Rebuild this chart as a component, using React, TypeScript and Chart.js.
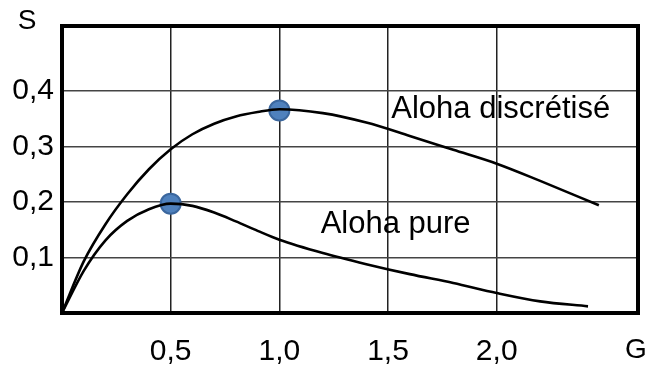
import React, { useEffect, useRef } from "react";
import { Chart, registerables } from "chart.js";

Chart.register(...registerables);

// Offered load G and throughput S
const slottedG = [0, 0.1, 0.2, 0.3, 0.4, 0.5, 0.6, 0.7, 0.8, 0.9, 1.0, 1.2, 1.4, 1.6, 1.8, 2.0, 2.2, 2.47];
const slottedS = [0, 0.093, 0.16, 0.214, 0.259, 0.295, 0.322, 0.341, 0.354, 0.362, 0.367, 0.36, 0.343, 0.319, 0.294, 0.269, 0.238, 0.194];

const pureG = [0, 0.1, 0.2, 0.3, 0.4, 0.5, 0.6, 0.7, 0.8, 0.9, 1.0, 1.2, 1.4, 1.6, 1.8, 2.0, 2.2, 2.42];
const pureS = [0, 0.076, 0.131, 0.166, 0.187, 0.197, 0.193, 0.181, 0.165, 0.148, 0.132, 0.108, 0.088, 0.07, 0.054, 0.036, 0.021, 0.012];

const peakG = [0.5, 1.0];
const peakS = [0.197, 0.365];

const xTicks = [0.5, 1.0, 1.5, 2.0];
const yTicks = [0.1, 0.2, 0.3, 0.4];

const curveLabels = ["Aloha discrétisé", "Aloha pure"];
const curveLabelG = [1.515, 1.19];
const curveLabelS = [0.352, 0.144];

const yTitle = "S";
const xTitle = "G";

const FONT = "'Liberation Sans', Arial, sans-serif";

const fmt = (v: number) => v.toFixed(1).replace(".", ",");

export default function App() {
  const ref = useRef<HTMLCanvasElement | null>(null);

  useEffect(() => {
    document.body.style.margin = "0";
    const canvas = ref.current;
    if (!canvas) return;

    const overlay = {
      id: "overlay",
      afterDraw(chart: any) {
        const { ctx, chartArea, scales } = chart;
        const xs = scales.x;
        const ys = scales.y;
        ctx.save();
        // frame
        ctx.strokeStyle = "#000";
        ctx.lineWidth = 4;
        ctx.strokeRect(chartArea.left, chartArea.top, chartArea.right - chartArea.left, chartArea.bottom - chartArea.top);
        // curve labels
        ctx.fillStyle = "#000";
        ctx.font = `31px ${FONT}`;
        ctx.textAlign = "left";
        ctx.textBaseline = "alphabetic";
        curveLabels.forEach((t, i) => {
          ctx.fillText(t, xs.getPixelForValue(curveLabelG[i]), ys.getPixelForValue(curveLabelS[i]));
        });
        // axis titles
        ctx.font = `28px ${FONT}`;
        ctx.textAlign = "center";
        ctx.textBaseline = "middle";
        ctx.fillText(yTitle, chartArea.left - 35, chartArea.top - 5);
        ctx.fillText(xTitle, chartArea.right - 2, chartArea.bottom + 37);
        ctx.restore();
      },
    };

    const chart = new Chart(canvas, {
      type: "line",
      data: {
        datasets: [
          {
            label: "Aloha discrétisé",
            data: slottedG.map((g, i) => ({ x: g, y: slottedS[i] })),
            borderColor: "#000",
            borderWidth: 2.6,
            pointRadius: 0,
            cubicInterpolationMode: "monotone",
            fill: false,
          },
          {
            label: "Aloha pure",
            data: pureG.map((g, i) => ({ x: g, y: pureS[i] })),
            borderColor: "#000",
            borderWidth: 2.6,
            pointRadius: 0,
            cubicInterpolationMode: "monotone",
            fill: false,
          },
          {
            label: "max",
            type: "scatter",
            data: peakG.map((g, i) => ({ x: g, y: peakS[i] })),
            pointRadius: 10,
            pointBackgroundColor: "#4f81bd",
            pointBorderColor: "#3b679e",
            pointBorderWidth: 2,
            showLine: false,
          } as any,
        ],
      },
      options: {
        animation: false,
        responsive: false,
        maintainAspectRatio: false,
        devicePixelRatio: 1,
        layout: { padding: { left: 0, right: 12, top: 25, bottom: 0 } },
        plugins: {
          legend: { display: false },
          tooltip: { enabled: false },
          title: { display: false },
        },
        scales: {
          x: {
            type: "linear",
            min: 0,
            max: 2.65,
            afterBuildTicks: (s: any) => {
              s.ticks = xTicks.map((v) => ({ value: v }));
            },
            afterFit: (s: any) => {
              s.height = 54;
            },
            ticks: {
              callback: (v: any) => fmt(Number(v)),
              color: "#000",
              font: { family: FONT, size: 30 },
              padding: 21,
              maxRotation: 0,
              autoSkip: false,
            },
            grid: { color: "#222", lineWidth: 1.5, drawTicks: false },
            border: { display: false },
          },
          y: {
            type: "linear",
            min: 0,
            max: 0.517,
            afterBuildTicks: (s: any) => {
              s.ticks = yTicks.map((v) => ({ value: v }));
            },
            afterFit: (s: any) => {
              s.width = 62;
            },
            ticks: {
              callback: (v: any) => fmt(Number(v)),
              color: "#000",
              font: { family: FONT, size: 30 },
              padding: 8,
              autoSkip: false,
            },
            grid: { color: "#444", lineWidth: 1.5, drawTicks: false },
            border: { display: false },
          },
        },
      },
      plugins: [overlay],
    } as any);

    return () => chart.destroy();
  }, []);

  return (
    <div style={{ width: 650, height: 367, background: "#fff" }}>
      <canvas ref={ref} width={650} height={367} style={{ display: "block", width: 650, height: 367 }} />
    </div>
  );
}
